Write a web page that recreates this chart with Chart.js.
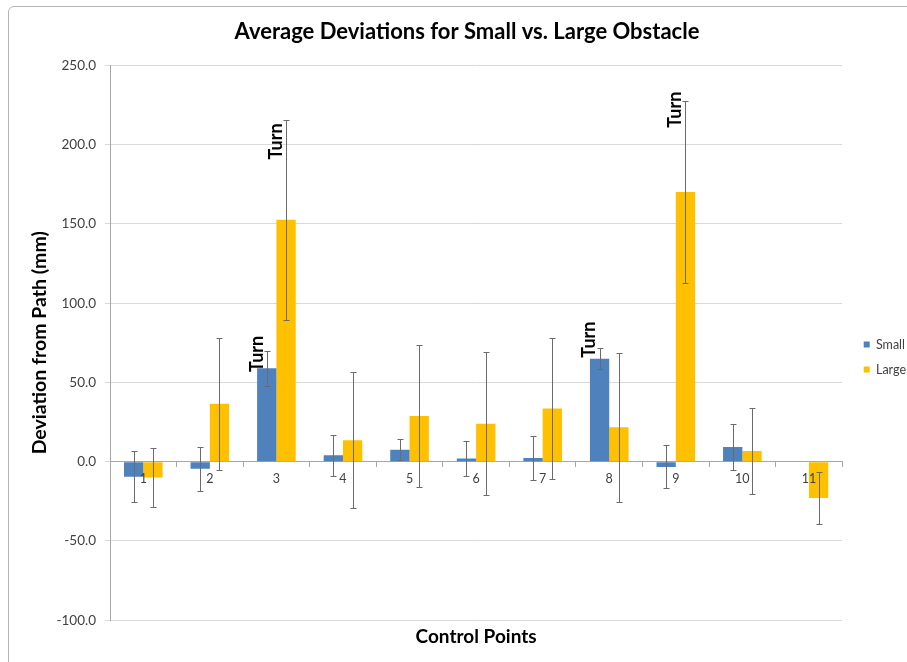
<!DOCTYPE html>
<html>
<head>
<meta charset="utf-8">
<script src="https://cdn.jsdelivr.net/npm/chart.js@4.4.1/dist/chart.umd.min.js"></script>
<style>
  html, body { margin: 0; padding: 0; background: #fff; overflow: hidden; }
  #wrap { position: relative; width: 907px; height: 662px; overflow: hidden; }
  #frame { position: absolute; left: 8px; top: 6px; width: 1000px; height: 1000px;
           border: 1px solid #b4b4b4; border-radius: 6px; box-sizing: border-box; }
  #chartDev { position: absolute; left: 0; top: 0; }
</style>
</head>
<body>
<div id="wrap">
  <div id="frame"></div>
  <canvas id="chartDev" width="925" height="662"></canvas>
</div>
<script>
const categories = ['1', '2', '3', '4', '5', '6', '7', '8', '9', '10', '11'];
const smallMeans = [-9.5, -4.5, 59.0, 4.0, 7.5, 2.0, 2.3, 65.0, -3.3, 9.2, null];
const smallErrors = [16.0, 14.0, 11.0, 13.0, 6.5, 11.0, 14.0, 6.5, 13.6, 14.7, null];
const largeMeans = [-10.0, 36.5, 152.6, 13.6, 28.8, 24.0, 33.6, 21.8, 170.2, 6.7, -22.9];
const largeErrors = [18.5, 41.5, 63.2, 43.0, 44.5, 45.0, 44.5, 47.0, 57.3, 27.0, 16.3];
const yTicks = [-100, -50, 0, 50, 100, 150, 200, 250];

// "Turn" notes: category index, series (0 small, 1 large), level of the text centre
const turnLabels = [
  { cat: 2, set: 0, at: 68 },
  { cat: 2, set: 1, at: 202 },
  { cat: 7, set: 0, at: 77 },
  { cat: 8, set: 1, at: 222 }
];

const errorSets = [smallErrors, largeErrors];

Chart.defaults.font.family = 'Lato, "Noto Sans", sans-serif';

const errorBarPlugin = {
  id: 'errorBars',
  afterDatasetsDraw(chart) {
    const ctx = chart.ctx;
    const yScale = chart.scales.y;
    ctx.save();
    ctx.strokeStyle = '#6b6b6b';
    ctx.lineWidth = 1;
    for (let d = 0; d < errorSets.length; d++) {
      const meta = chart.getDatasetMeta(d);
      const values = chart.data.datasets[d].data;
      for (let i = 0; i < meta.data.length; i++) {
        if (values[i] == null || errorSets[d][i] == null) {
          continue;
        }
        const x = Math.round(meta.data[i].x) + 0.5;
        const top = Math.round(yScale.getPixelForValue(values[i] + errorSets[d][i])) + 0.5;
        const bot = Math.round(yScale.getPixelForValue(values[i] - errorSets[d][i])) + 0.5;
        ctx.beginPath();
        ctx.moveTo(x, top);
        ctx.lineTo(x, bot);
        ctx.moveTo(x - 3, top);
        ctx.lineTo(x + 3, top);
        ctx.moveTo(x - 3, bot);
        ctx.lineTo(x + 3, bot);
        ctx.stroke();
      }
    }
    ctx.restore();
  }
};

const turnPlugin = {
  id: 'turnNotes',
  afterDraw(chart) {
    const ctx = chart.ctx;
    const yScale = chart.scales.y;
    ctx.save();
    ctx.font = 'bold 18px Lato, sans-serif';
    ctx.fillStyle = '#000';
    ctx.textAlign = 'center';
    ctx.textBaseline = 'middle';
    turnLabels.forEach(function(t) {
      const bar = chart.getDatasetMeta(t.set).data[t.cat];
      const x = bar.x - 10;
      const y = yScale.getPixelForValue(t.at);
      ctx.save();
      ctx.translate(x, y);
      ctx.rotate(-Math.PI / 2);
      ctx.fillText('Turn', 0, 0);
      ctx.restore();
    });
    ctx.restore();
  }
};

// nudge the legend block to where the original sits
const legendShift = {
  id: 'legendShift',
  afterLayout(chart) {
    const lg = chart.legend;
    lg.left += 9;
    lg.right += 9;
    lg.top += 26;
    lg.bottom += 26;
  }
};

const canvas = document.getElementById('chartDev');
const chart = new Chart(canvas, {
  type: 'bar',
  data: {
    labels: categories,
    datasets: [
      { label: 'Small', data: smallMeans, backgroundColor: '#4f81bd', borderWidth: 0 },
      { label: 'Large', data: largeMeans, backgroundColor: '#ffc000', borderWidth: 0 }
    ]
  },
  options: {
    responsive: false,
    animation: false,
    events: [],
    barPercentage: 1.0,
    categoryPercentage: 0.58,
    layout: { padding: { left: 27, right: 18, top: 0, bottom: 0 } },
    plugins: {
      title: {
        display: true,
        text: 'Average Deviations for Small vs. Large Obstacle',
        color: '#000',
        font: { size: 22, weight: 'bold' },
        padding: { top: 19, bottom: 20 }
      },
      subtitle: {
        display: true,
        position: 'bottom',
        fullSize: false,
        text: 'Control Points',
        color: '#000',
        font: { size: 19, weight: 'bold' },
        padding: { top: 5, bottom: 14 }
      },
      legend: {
        position: 'right',
        labels: {
          boxWidth: 6,
          boxHeight: 6,
          padding: 12.5,
          color: '#404040',
          font: { size: 12.5 }
        }
      },
      tooltip: { enabled: false }
    },
    scales: {
      x: {
        type: 'category',
        position: { y: 0 },
        grid: { offset: true, drawOnChartArea: false, tickLength: 5, color: '#a6a6a6' },
        border: { color: '#a6a6a6' },
        ticks: { padding: 5, z: 1, color: '#404040', font: { size: 12.5 } }
      },
      y: {
        min: -100,
        max: 250,
        afterBuildTicks: function(scale) {
          scale.ticks = yTicks.map(v => ({ value: v }));
        },
        afterFit: function(scale) {
          scale.width = 83;
        },
        grid: { color: '#d9d9d9', tickLength: 5 },
        border: { color: '#a6a6a6' },
        ticks: {
          padding: 9,
          color: '#404040',
          font: { size: 13.5 },
          callback: v => v.toFixed(1)
        },
        title: {
          display: true,
          text: 'Deviation from Path (mm)',
          color: '#000',
          font: { size: 19.5, weight: 'bold' },
          padding: { top: 1, bottom: 4 }
        }
      }
    }
  },
  plugins: [errorBarPlugin, turnPlugin, legendShift]
});
</script>
</body>
</html>
